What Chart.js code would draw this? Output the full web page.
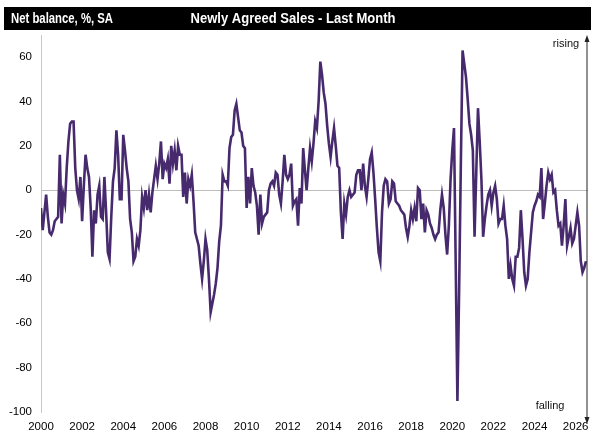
<!DOCTYPE html>
<html>
<head>
<meta charset="utf-8">
<script src="https://cdn.jsdelivr.net/npm/chart.js@4"></script>
<style>
  html, body { margin: 0; padding: 0; background: #fff; }
</style>
</head>
<body>
<canvas id="chart" width="600" height="446"></canvas>
<script>
// monthly net balance, Jan 2000 onwards
const startYear = 2000;
const netBalance = [
  -8, -18, -10, -2, -12, -19, -20, -18, -14, -13, -12, 16,   // 2000
  -15, -2, -6, 10, 22, 30, 31, 31, 10, 0, -4, 6,             // 2001
  -14, 2, 16, 10, 6, -8, -30, -9, -15, -2, 2, -12,           // 2002
  -13, 6, -10, -28, -31, -12, 4, 10, 27, 16, -4, -4,         // 2003
  25, 18, 10, 4, -13, -19, -32, -30, -22, -25, -18, -3,      // 2004
  -8, 0, -9, -2, -10, -1, 5, 11, 5, 12, 22, 5,               // 2005
  12, 10, 14, 3, 20, 12, 18, 9, 20, 16, 16, -3,              // 2006
  8, -6, 5, 2, 7, -5, -19, -22, -25, -33, -40, -32,          // 2007
  -22, -27, -40, -55, -51, -47, -42, -35, -23, -16, 7, 4,    // 2008
  4, 2, 19, 24, 25, 36, 39, 33, 27, 26, 20, 19,              // 2009
  -8, 6, -6, 10, 2, -1, -7, -20, -2, -15, -12, -11,          // 2010
  -10, 0, 3, 4, 2, 8, 7, -2, -6, 4, 16, 7,                   // 2011
  5, 7, 12, -7, -5, -4, -16, 1, -6, 19, 9, 0,                // 2012
  10, 19, 13, 21, 31, 28, 40, 58, 52, 44, 39, 29,            // 2013
  21, 15, 22, 28, 20, 11, 10, -10, -22, -6, -11, -3,         // 2014
  0, -3, -2, -1, 7, 9, 9, 0, 12, 2, -3, 5,                   // 2015
  14, 17, 8, -4, -17, -28, -32, -10, 2, 5, 4, -6,            // 2016
  -4, 4, 3, -5, -6, -7, -9, -10, -11, -17, -21, -16,         // 2017
  -9, -13, -8, -14, 1, 0, -13, -6, -19, -9, -11, -15,        // 2018
  -17, -20, -22, -20, -19, -9, -2, -8, -20, -29, -16, 5,     // 2019
  18, 28, -33, -95, -45, 12, 63, 57, 51, 41, 30, 25,         // 2020
  18, -21, 8, 37, 22, 5, -21, -13, -7, -2, 0, -7,            // 2021
  -1, 2, -4, -15, -13, -13, -7, -16, -22, -40, -34, -40,     // 2022
  -43, -30, -30, -26, -9, -22, -37, -43, -40, -28, -19, -10, // 2023
  -7, -5, -2, -3, 10, -13, -6, 2, 8, 5, 7, -1,               // 2024
  0, -9, -16, -15, -25, -16, -4, -25, -21, -17, -24, -22,    // 2025
  -16, -10, -16, -32, -37, -35, -32                          // 2026
];
const yearTicks = [2000, 2002, 2004, 2006, 2008, 2010, 2012, 2014, 2016, 2018, 2020, 2022, 2024, 2026];
const balanceTicks = [60, 40, 20, 0, -20, -40, -60, -80, -100];
const unitLabel = 'Net balance, %, SA';
const chartTitle = 'Newly Agreed Sales - Last Month';

const points = netBalance.map((v, i) => ({ x: startYear + i / 12, y: v }));

const FONT = '"Liberation Sans", Arial, sans-serif';

// draws text squeezed to a given width (the original uses a narrow face)
function narrowText(ctx, text, x, y, width, align) {
  const w = ctx.measureText(text).width;
  const k = Math.min(1, width / w);
  ctx.save();
  ctx.translate(x, y);
  ctx.scale(k, 1);
  ctx.textAlign = align;
  ctx.fillText(text, 0, 0);
  ctx.restore();
}

// black title strip
const headerPlugin = {
  id: 'header',
  beforeDraw(chart) {
    const ctx = chart.ctx;
    ctx.save();
    ctx.fillStyle = '#000';
    ctx.fillRect(4, 7, 587, 23);
    ctx.fillStyle = '#fff';
    ctx.textBaseline = 'middle';
    ctx.font = 'bold 14px ' + FONT;
    narrowText(ctx, unitLabel, 11, 19, 102, 'left');
    narrowText(ctx, chartTitle, 293, 19, 205, 'center');
    ctx.restore();
  }
};

// rising / falling arrow on the right
const arrowPlugin = {
  id: 'arrow',
  afterDraw(chart) {
    const ctx = chart.ctx;
    const a = chart.chartArea;
    const x = a.right - 1;
    const top = a.top;
    const bottom = 424;
    ctx.save();
    ctx.strokeStyle = '#222';
    ctx.fillStyle = '#222';
    ctx.lineWidth = 1;
    ctx.beginPath();
    ctx.moveTo(x, top + 5);
    ctx.lineTo(x, bottom - 5);
    ctx.stroke();
    ctx.beginPath();
    ctx.moveTo(x, top);
    ctx.lineTo(x - 2.5, top + 7);
    ctx.lineTo(x + 2.5, top + 7);
    ctx.closePath();
    ctx.fill();
    ctx.beginPath();
    ctx.moveTo(x, bottom);
    ctx.lineTo(x - 2.5, bottom - 7);
    ctx.lineTo(x + 2.5, bottom - 7);
    ctx.closePath();
    ctx.fill();
    ctx.font = '11px ' + FONT;
    ctx.fillStyle = '#111';
    ctx.textBaseline = 'middle';
    ctx.textAlign = 'center';
    ctx.fillText('rising', 566, 44);
    ctx.fillText('falling', 550, 406);
    ctx.restore();
  }
};

new Chart(document.getElementById('chart'), {
  type: 'line',
  data: {
    datasets: [{
      data: points,
      borderColor: '#472a6e',
      borderWidth: 2.6,
      pointRadius: 0,
      tension: 0,
      fill: false
    }]
  },
  options: {
    responsive: false,
    animation: false,
    devicePixelRatio: 1,
    layout: { padding: { left: 0, right: 12, top: 35, bottom: 0 } },
    plugins: { legend: { display: false }, tooltip: { enabled: false } },
    scales: {
      x: {
        type: 'linear',
        min: 2000,
        max: 2026.6,
        afterBuildTicks: s => { s.ticks = yearTicks.map(v => ({ value: v })); },
        afterFit: s => { s.height = 34; },
        grid: { display: false, drawTicks: false },
        border: { display: false },
        ticks: {
          padding: 8,
          color: '#000',
          font: { family: FONT, size: 11.5 },
          maxRotation: 0,
          autoSkip: false,
          callback: v => String(v)
        }
      },
      y: {
        min: -100,
        max: 70,
        afterBuildTicks: s => { s.ticks = balanceTicks.map(v => ({ value: v })); },
        afterFit: s => { s.width = 41; },
        grid: {
          drawTicks: false,
          color: c => (c.tick && c.tick.value === 0 ? '#bdbdbd' : 'rgba(0,0,0,0)'),
          lineWidth: 1
        },
        border: { display: true, color: '#c8c8c8', width: 1 },
        ticks: {
          padding: 9,
          color: '#000',
          font: { family: FONT, size: 11.5 },
          callback: v => String(v)
        }
      }
    }
  },
  plugins: [headerPlugin, arrowPlugin]
});
</script>
</body>
</html>
